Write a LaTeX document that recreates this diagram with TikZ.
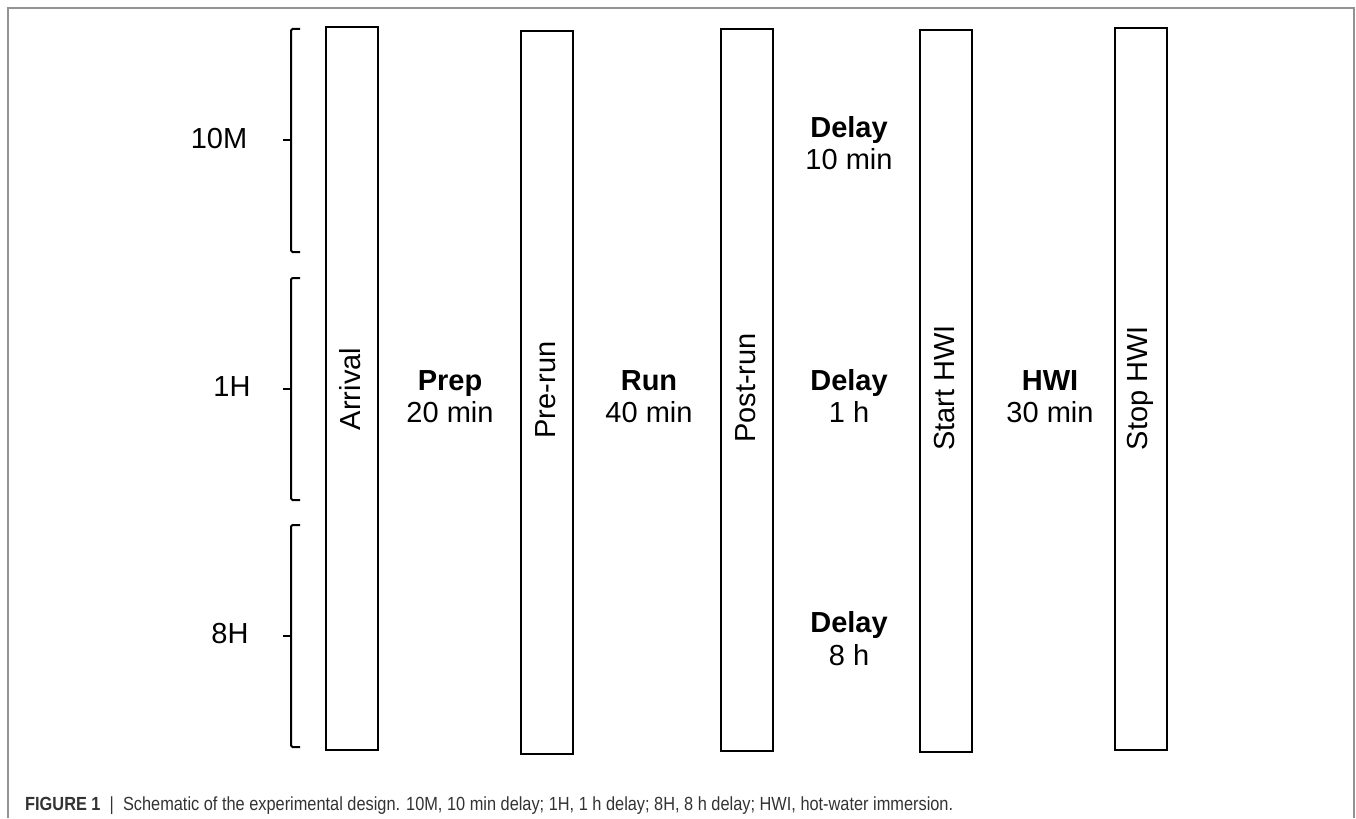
\documentclass[tikz,border=0pt]{standalone}
\usepackage{fontspec}
\setmainfont{Liberation Sans}
\usepackage{graphicx}
\begin{document}
\begin{tikzpicture}[x=1bp,y=-1bp,
  stage/.style={draw, line width=2bp, inner sep=0pt},
  vlbl/.style={font=\fontsize{29bp}{32bp}\selectfont, rotate=90, inner sep=0pt},
  grp/.style={font=\fontsize{29bp}{32bp}\selectfont, inner sep=0pt},
  ttl/.style={font=\fontsize{29bp}{32bp}\selectfont\bfseries, anchor=base, inner sep=0pt},
  dur/.style={font=\fontsize{29bp}{32bp}\selectfont, anchor=base, inner sep=0pt},
  brace/.style={line width=2bp, rounded corners=1.5bp},
  frame/.style={draw=gray!85, line width=1.5bp}]
\useasboundingbox (0,0) rectangle (1356,818);
\fill[white] (0,0) rectangle (1356,818);
\draw[frame] (8,818) -- (8,8) -- (1354,8) -- (1354,818);

% stage boxes
\node[stage, minimum width=52bp, minimum height=722bp] (arrival) at (351.5,388.5) {};
\node[stage, minimum width=52bp, minimum height=722bp] (prerun) at (547,392.5) {};
\node[stage, minimum width=52bp, minimum height=721bp] (postrun) at (747,390) {};
\node[stage, minimum width=52bp, minimum height=721bp] (starthwi) at (946,391) {};
\node[stage, minimum width=52bp, minimum height=721bp] (stophwi) at (1141,389) {};

\node[vlbl] (arrivalL) at (350.5,389) {Arrival};
\node[vlbl] (prerunL) at (546,390) {Pre-run};
\node[vlbl] (postrunL) at (746,388) {Post-run};
\node[vlbl] (starthwiL) at (945,388) {Start HWI};
\node[vlbl] (stophwiL) at (1140,388) {Stop HWI};

% phases between stages
\node[ttl] (prepT) at (450,390.5) {Prep};
\node[dur] (prepD) at (450,422.5) {20 min};
\node[ttl] (runT) at (649,390.5) {Run};
\node[dur] (runD) at (649,422.5) {40 min};
\node[ttl] (delayAT) at (849,137.5) {Delay};
\node[dur] (delayAD) at (849,169.5) {10 min};
\node[ttl] (delayBT) at (849,390.5) {Delay};
\node[dur] (delayBD) at (849,422.5) {1 h};
\node[ttl] (delayCT) at (849,632.5) {Delay};
\node[dur] (delayCD) at (849,665) {8 h};
\node[ttl] (hwiT) at (1050,390.5) {HWI};
\node[dur] (hwiD) at (1050,422.5) {30 min};

% group brackets
\draw[brace] (300,29) -- (291,29) -- (291,252) -- (300,252);
\draw[brace] (283,140) -- (291,140);
\draw[brace] (300,278) -- (291,278) -- (291,500) -- (300,500);
\draw[brace] (283,389) -- (291,389);
\draw[brace] (300,525) -- (291,525) -- (291,747) -- (300,747);
\draw[brace] (283,636) -- (291,636);

\node[grp] (g10m) at (219,139) {10M};
\node[grp] (g1h) at (232,387) {1H};
\node[grp] (g8h) at (230,634) {8H};

% caption
\node[anchor=base west, inner sep=0pt, text=black!80, font=\fontsize{19bp}{22bp}\selectfont] (caption) at (25,810.5)
  {\resizebox{928bp}{\height}{\textbf{FIGURE 1}\ \ |\ \ Schematic of the experimental design. 10M, 10 min delay; 1H, 1 h delay; 8H, 8 h delay; HWI, hot-water immersion.}};
\end{tikzpicture}
\end{document}
